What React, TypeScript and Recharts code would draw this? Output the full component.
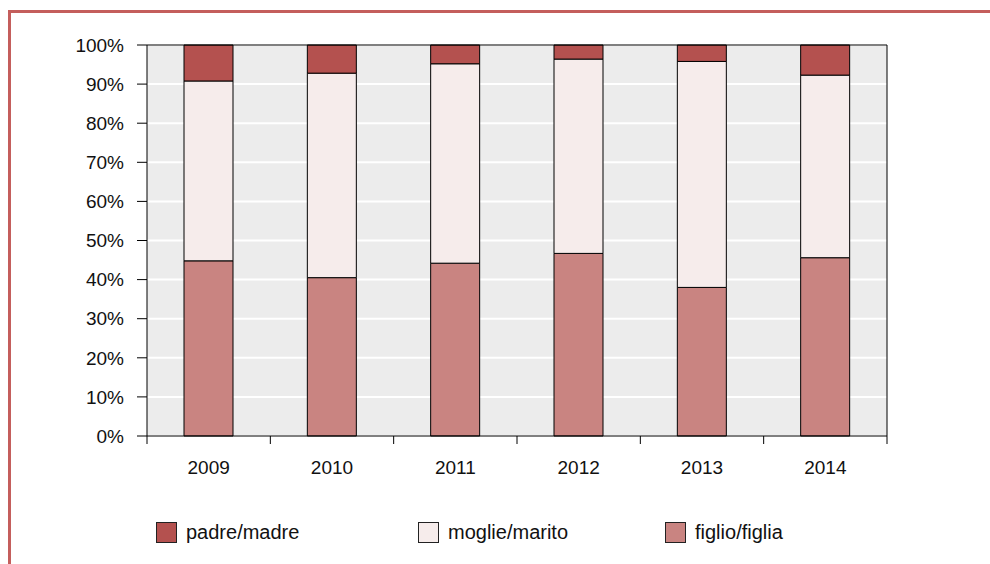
import { Bar, BarChart, CartesianGrid, Legend, XAxis, YAxis } from "recharts";

const years = ["2009", "2010", "2011", "2012", "2013", "2014"];
const padre = [9.2, 7.2, 4.8, 3.6, 4.2, 7.7];
const moglie = [46.0, 52.3, 51.0, 49.7, 57.8, 46.7];
const figlio = [44.8, 40.5, 44.2, 46.7, 38.0, 45.6];
const yTicks = [0, 10, 20, 30, 40, 50, 60, 70, 80, 90, 100];

const series = [
  { key: "padre", name: "padre/madre", color: "#b4514f" },
  { key: "moglie", name: "moglie/marito", color: "#f6eceb" },
  { key: "figlio", name: "figlio/figlia", color: "#c98481" }
];
const legendLeft = [156, 418, 665];

const data = years.map((year, i) => ({
  year,
  padre: padre[i],
  moglie: moglie[i],
  figlio: figlio[i]
}));

const font = "'Liberation Sans', Arial, Helvetica, sans-serif";
const TICK_SIZE = 8;
const TICK_MARGIN = 17;

// category label plus a tick mark on the band boundary (left, and right for the last one)
function YearTick(props: any) {
  const { x, y, payload, index, visibleTicksCount } = props;
  const half = payload && payload.offset ? payload.offset : 740 / 12;
  const axisY = y - TICK_MARGIN - TICK_SIZE;
  return (
    <g>
      <line x1={x - half} x2={x - half} y1={axisY} y2={axisY + TICK_SIZE} stroke="#000" />
      {index === visibleTicksCount - 1 && (
        <line x1={x + half} x2={x + half} y1={axisY} y2={axisY + TICK_SIZE} stroke="#000" />
      )}
      <text x={x} y={y} dy="0.71em" textAnchor="middle" fill="#111" fontSize={19} fontFamily={font}>
        {payload.value}
      </text>
    </g>
  );
}

function ChartLegend() {
  return (
    <div style={{ position: "relative", width: 990, height: 40, fontFamily: font, fontSize: 20 }}>
      {series.map((s, i) => (
        <div
          key={s.key}
          style={{ position: "absolute", left: legendLeft[i], top: 9, display: "flex", alignItems: "center" }}
        >
          <span
            style={{
              display: "inline-block",
              width: 21,
              height: 21,
              background: s.color,
              border: "1px solid #222",
              boxSizing: "border-box",
              marginRight: 9
            }}
          />
          <span style={{ color: "#111" }}>{s.name}</span>
        </div>
      ))}
    </div>
  );
}

export default function App() {
  return (
    <div style={{ position: "fixed", left: 0, top: 0, width: 990, height: 564, background: "#fff", overflow: "hidden" }}>
      <div
        style={{
          position: "absolute",
          left: 8,
          top: 10,
          width: 1100,
          height: 700,
          borderLeft: "3px solid #c45e5c",
          borderTop: "3px solid #c45e5c"
        }}
      />
      <BarChart
        width={990}
        height={564}
        data={data}
        margin={{ top: 44, right: 102, left: 47, bottom: 48 }}
        style={{ position: "absolute", left: 0, top: 0 }}
      >
        <CartesianGrid vertical={false} fill="#ececec" stroke="#ffffff" strokeWidth={2} />
        <XAxis
          dataKey="year"
          height={40}
          axisLine={{ stroke: "#000" }}
          tickLine={false}
          tickSize={TICK_SIZE}
          tickMargin={TICK_MARGIN}
          tick={<YearTick />}
        />
        <XAxis xAxisId="top" orientation="top" dataKey="year" height={1} tick={false} tickLine={false} axisLine={{ stroke: "#000" }} />
        <YAxis
          type="number"
          domain={[0, 100]}
          ticks={yTicks}
          width={100}
          tickSize={10}
          tickMargin={13}
          tickFormatter={(v) => `${v}%`}
          axisLine={{ stroke: "#000" }}
          tickLine={{ stroke: "#000" }}
          tick={{ fill: "#111", fontSize: 19, fontFamily: font }}
        />
        <YAxis yAxisId="right" orientation="right" type="number" domain={[0, 100]} width={1} tick={false} tickLine={false} axisLine={{ stroke: "#000" }} />
        <Legend
          verticalAlign="bottom"
          content={() => <ChartLegend />}
          wrapperStyle={{ position: "absolute", left: 0, top: 512, width: 990, height: 40 }}
        />
        {[...series].reverse().map((s) => (
          <Bar
            key={s.key}
            dataKey={s.key}
            name={s.name}
            stackId="a"
            fill={s.color}
            stroke="#000"
            strokeWidth={1}
            barSize={49}
            isAnimationActive={false}
          />
        ))}
      </BarChart>
    </div>
  );
}
